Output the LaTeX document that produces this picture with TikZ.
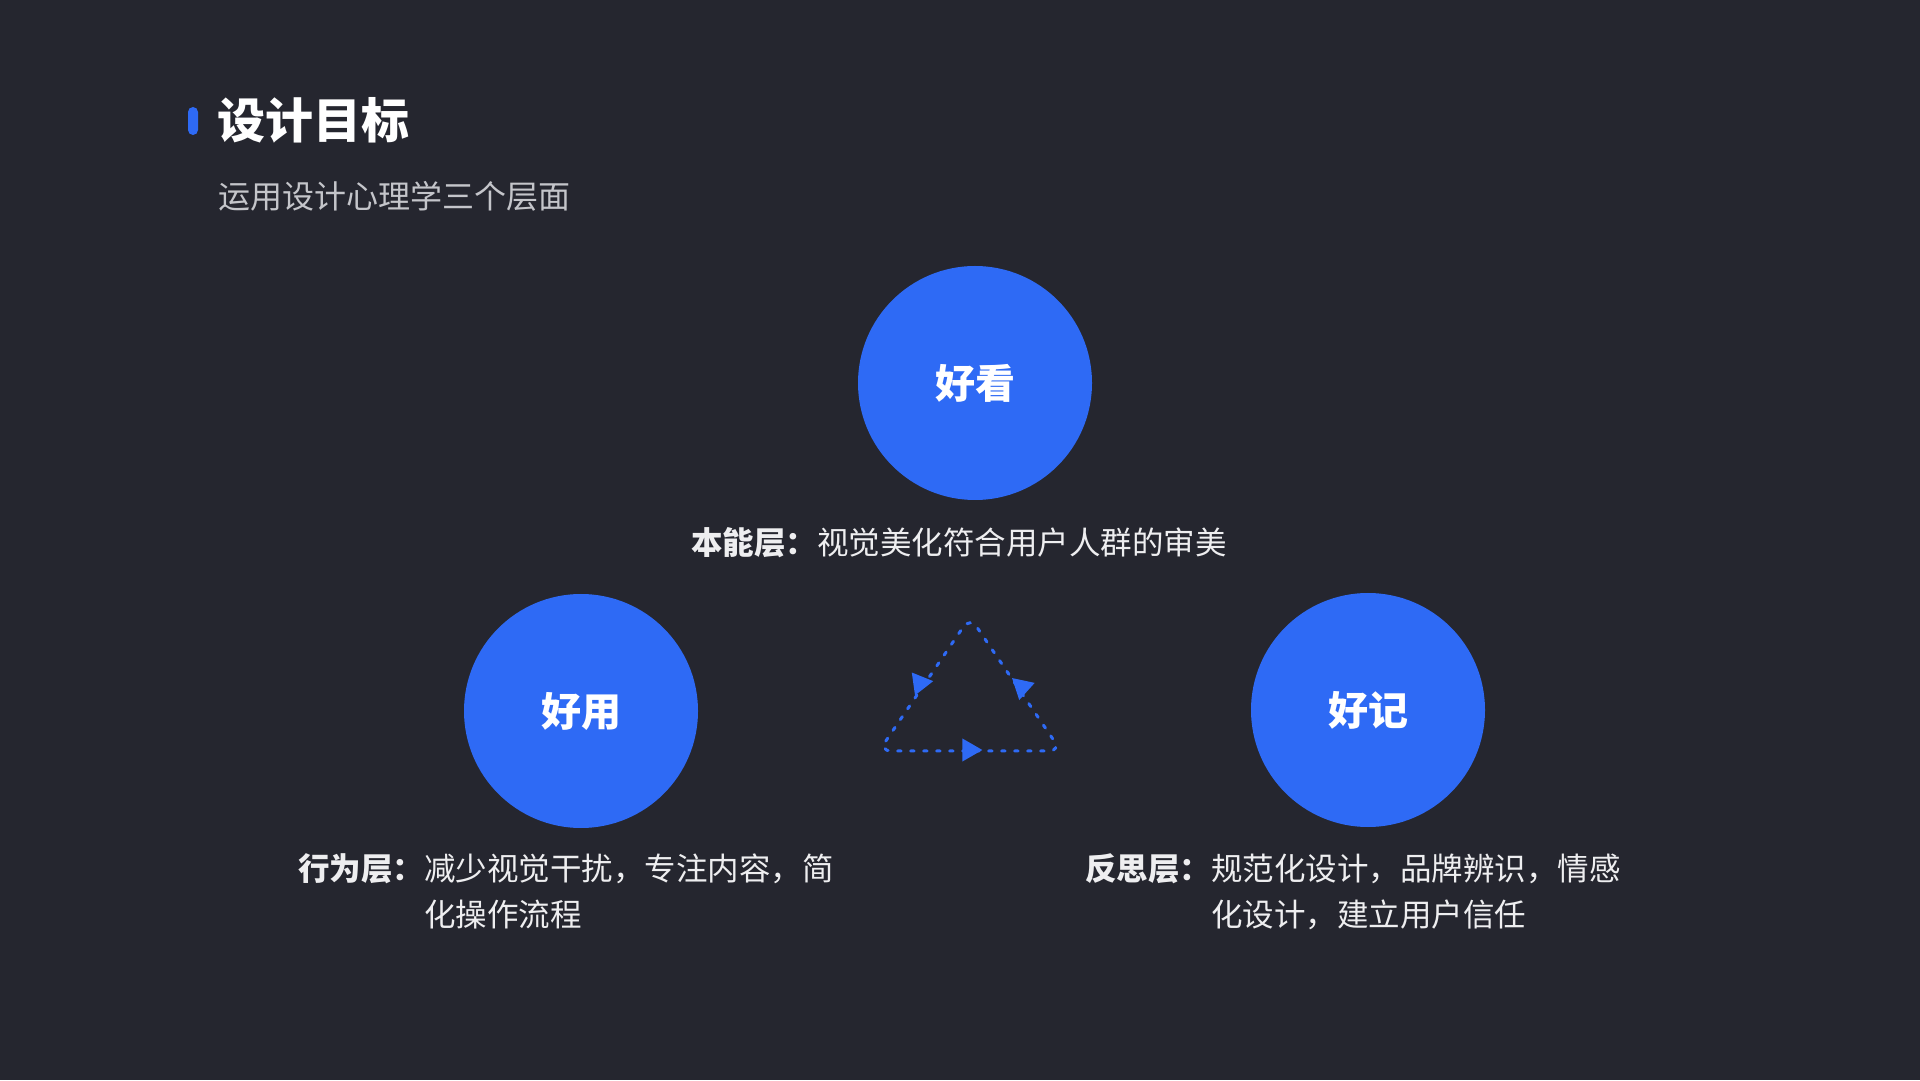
\documentclass[tikz,border=0pt]{standalone}
\usepackage{fontspec}
\setmainfont{Noto Sans CJK SC}
\usetikzlibrary{shapes.geometric, positioning}
\definecolor{bgdark}{RGB}{37, 38, 47}
\definecolor{brandblue}{RGB}{46, 106, 245}
\definecolor{subgray}{RGB}{196, 197, 202}
\definecolor{textwhite}{RGB}{238, 238, 240}

\begin{document}
\begin{tikzpicture}[x=1pt, y=1pt]
    \tikzstyle{goal} = [circle, fill=brandblue, minimum size=234pt, inner sep=0pt,
                        text=white, font=\fontsize{40}{48}\selectfont\bfseries]
    \tikzstyle{desc} = [anchor=west, inner sep=0pt, text=textwhite,
                        font=\fontsize{31.5}{46.5}\selectfont]
    \tikzstyle{loopline} = [brandblue, line width=3pt, line cap=round,
                            dash pattern=on 3.5pt off 9.5pt, rounded corners=12pt]
    \tikzstyle{looptip} = [isosceles triangle, isosceles triangle apex angle=60,
                           fill=brandblue, inner sep=0pt, minimum height=20pt]

    %% canvas
    \fill[bgdark] (0,0) rectangle (1920,1080);
    \useasboundingbox (0,0) rectangle (1920,1080);

    %% heading
    \node[rectangle, rounded corners=5pt, fill=brandblue, minimum width=10pt,
          minimum height=28pt, inner sep=0pt] (bar) at (193,959) {};
    \node[anchor=west, inner sep=0pt, text=white,
          font=\fontsize{48}{56}\selectfont\bfseries] (title) at (217,960) {设计目标};
    \node[anchor=west, inner sep=0pt, text=subgray,
          font=\fontsize{32}{38}\selectfont] (subtitle) at (218,884) {运用设计心理学三个层面};

    %% the three layers
    \node[goal] (look) at (975,697) {好看};
    \node[goal] (use)  at (581,369) {好用};
    \node[goal] (memo) at (1368,370) {好记};

    \node[desc] (lookdesc) at (691,537) {\textbf{本能层：}视觉美化符合用户人群的审美};
    \node[desc] (usedesc) at (298,186)
      {\begin{tabular}{@{}l@{}l@{}}\textbf{行为层：} & 减少视觉干扰，专注内容，简\\ & 化操作流程\end{tabular}};
    \node[desc] (memodesc) at (1085,186)
      {\begin{tabular}{@{}l@{}l@{}}\textbf{反思层：} & 规范化设计，品牌辨识，情感\\ & 化设计，建立用户信任\end{tabular}};

    %% dashed loop in the middle
    \coordinate (cl) at (879,329);
    \coordinate (ca) at (970,463);
    \coordinate (cr) at (1061,329);
    \draw[loopline] (cl) -- (ca) -- (cr) -- cycle;

    \node[looptip, rotate=8]  (tipl) at (920,397) {};
    \node[looptip, rotate=18] (tipr) at (1022,393) {};
    \node[looptip]            (tipb) at (969,330) {};
\end{tikzpicture}
\end{document}
